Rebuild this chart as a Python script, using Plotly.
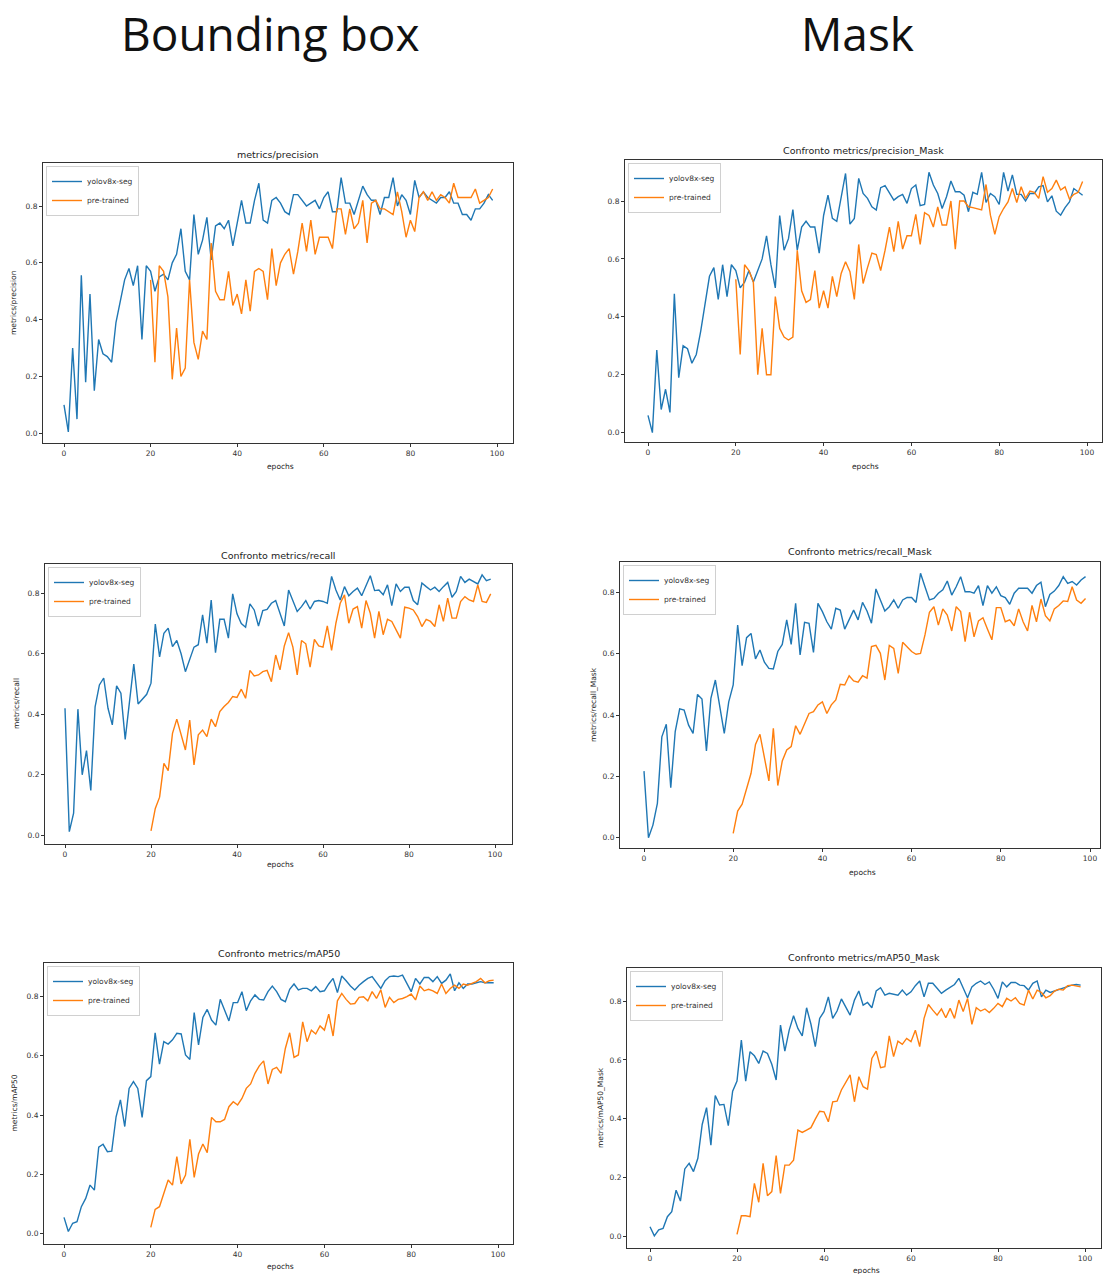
import plotly.graph_objects as go

W, H = 1105, 1274

# ---------------- data ----------------
epochs_yolo = list(range(0, 100))
epochs_pre = list(range(20, 100))

precision_yolo = [0.10, 0.005, 0.30, 0.05, 0.556, 0.18, 0.49, 0.15, 0.33, 0.28,
                  0.27, 0.25, 0.39, 0.47, 0.54, 0.58, 0.52, 0.59, 0.33, 0.59,
                  0.57, 0.50, 0.55, 0.56, 0.54, 0.60, 0.63, 0.72, 0.57, 0.54,
                  0.77, 0.63, 0.68, 0.76, 0.61, 0.73, 0.74, 0.72, 0.75, 0.66,
                  0.74, 0.82, 0.74, 0.74, 0.82, 0.88, 0.75, 0.74,
                  0.82, 0.83, 0.81, 0.78, 0.77, 0.84, 0.84, 0.82, 0.80, 0.81,
                  0.82, 0.79, 0.83, 0.85, 0.78, 0.78, 0.90, 0.81, 0.81, 0.77,
                  0.82, 0.87, 0.84, 0.82, 0.82, 0.77, 0.83, 0.83, 0.90, 0.80,
                  0.84, 0.82, 0.77, 0.89, 0.83, 0.85, 0.83, 0.82, 0.81, 0.83,
                  0.83, 0.85, 0.81, 0.81, 0.77, 0.77, 0.75, 0.79, 0.79, 0.81,
                  0.84, 0.82]
precision_pre = [0.54, 0.25, 0.59, 0.57, 0.48, 0.19, 0.37, 0.20, 0.23, 0.54,
                 0.32, 0.26, 0.36, 0.33, 0.67, 0.50, 0.47, 0.47, 0.57, 0.45,
                 0.49, 0.42, 0.54, 0.43, 0.57, 0.58, 0.57, 0.47, 0.65, 0.52,
                 0.60, 0.63, 0.65, 0.56, 0.64, 0.74, 0.64, 0.75, 0.63, 0.69,
                 0.69, 0.69, 0.65, 0.79, 0.79, 0.70, 0.79, 0.72, 0.74, 0.82,
                 0.67, 0.81, 0.82, 0.79, 0.79, 0.78, 0.77, 0.85, 0.78, 0.69,
                 0.75, 0.71, 0.83, 0.85, 0.82, 0.85, 0.82, 0.84, 0.83, 0.81,
                 0.88, 0.83, 0.83, 0.83, 0.83, 0.86, 0.81, 0.82, 0.83, 0.86]

precision_mask_yolo = [0.06, 0.00, 0.285, 0.08, 0.15, 0.07, 0.48, 0.19, 0.30, 0.29,
                       0.24, 0.27, 0.35, 0.45, 0.54, 0.57, 0.46, 0.58, 0.47, 0.58,
                       0.56, 0.50, 0.52, 0.56, 0.52, 0.56, 0.60, 0.68, 0.58, 0.50,
                       0.75, 0.63, 0.67, 0.77, 0.63, 0.71, 0.73, 0.71, 0.71, 0.62,
                       0.75, 0.82, 0.74, 0.73, 0.81, 0.895, 0.72, 0.74,
                       0.878, 0.826, 0.809, 0.78, 0.769, 0.846, 0.853, 0.826, 0.803, 0.815,
                       0.823, 0.792, 0.843, 0.855, 0.784, 0.788, 0.899, 0.855, 0.826, 0.774,
                       0.815, 0.869, 0.832, 0.832, 0.82, 0.763, 0.83, 0.823, 0.899, 0.795,
                       0.826, 0.815, 0.788, 0.899, 0.834, 0.89, 0.823, 0.823, 0.80, 0.826,
                       0.826, 0.849, 0.853, 0.797, 0.818, 0.765, 0.751, 0.777, 0.797, 0.843,
                       0.832, 0.82]
precision_mask_pre = [0.53, 0.27, 0.58, 0.56, 0.52, 0.20, 0.36, 0.20, 0.20, 0.47,
                      0.36, 0.33, 0.32, 0.33, 0.63, 0.49, 0.45, 0.46, 0.56, 0.43,
                      0.49, 0.43, 0.54, 0.47, 0.55, 0.59, 0.556, 0.46,
                      0.65, 0.515, 0.57, 0.62, 0.615, 0.56, 0.63, 0.71, 0.625, 0.73,
                      0.634, 0.68, 0.68, 0.754, 0.65, 0.76, 0.75, 0.71, 0.78, 0.717,
                      0.717, 0.80, 0.634, 0.80, 0.80, 0.78, 0.777, 0.774, 0.769, 0.857,
                      0.751, 0.685, 0.746, 0.774, 0.797, 0.843, 0.795, 0.849, 0.809, 0.834,
                      0.83, 0.809, 0.884, 0.83, 0.843, 0.872, 0.838, 0.849, 0.807, 0.823,
                      0.83, 0.867]

recall_yolo = [0.42, 0.012, 0.073, 0.417, 0.20, 0.28, 0.148, 0.425, 0.497, 0.52,
               0.42, 0.365, 0.494, 0.47, 0.317, 0.442, 0.566, 0.434, 0.45, 0.466,
               0.503, 0.698, 0.59, 0.668, 0.685, 0.624, 0.644, 0.60, 0.541, 0.585,
               0.622, 0.63, 0.729, 0.635, 0.778, 0.604, 0.714, 0.714, 0.652, 0.798,
               0.732, 0.70, 0.688, 0.765, 0.745, 0.692, 0.743, 0.747,
               0.767, 0.776, 0.736, 0.692, 0.811, 0.778, 0.74, 0.756, 0.776, 0.748,
               0.773, 0.776, 0.773, 0.767, 0.856, 0.811, 0.778, 0.822, 0.792, 0.806,
               0.817, 0.792, 0.828, 0.858, 0.809, 0.811, 0.795, 0.828, 0.759, 0.831,
               0.806, 0.82, 0.82, 0.776, 0.762, 0.834, 0.822, 0.811, 0.82, 0.806,
               0.822, 0.836, 0.787, 0.806, 0.856, 0.836, 0.847, 0.839, 0.831, 0.861,
               0.842, 0.847]
recall_pre = [0.015, 0.089, 0.126, 0.238, 0.214, 0.337, 0.384, 0.337, 0.282, 0.381,
              0.233, 0.332, 0.348, 0.326, 0.384, 0.359, 0.409, 0.426, 0.439, 0.459,
              0.456, 0.483, 0.453, 0.545, 0.527, 0.53, 0.541, 0.545,
              0.508, 0.596, 0.547, 0.626, 0.67, 0.622, 0.53, 0.644, 0.633, 0.556,
              0.648, 0.626, 0.622, 0.692, 0.611, 0.701, 0.767, 0.795, 0.701, 0.748,
              0.756, 0.685, 0.776, 0.734, 0.652, 0.74, 0.663, 0.714, 0.707, 0.679,
              0.652, 0.754, 0.751, 0.745, 0.723, 0.69, 0.714, 0.707, 0.69, 0.762,
              0.707, 0.784, 0.718, 0.718, 0.773, 0.789, 0.778, 0.773, 0.828, 0.773,
              0.77, 0.798]

recall_mask_yolo = [0.217, 0.0, 0.041, 0.112, 0.329, 0.37, 0.163, 0.346, 0.42, 0.416,
                    0.367, 0.34, 0.467, 0.452, 0.283, 0.454, 0.514, 0.427, 0.34, 0.443,
                    0.498, 0.693, 0.561, 0.652, 0.666, 0.583, 0.612, 0.572, 0.552, 0.55,
                    0.607, 0.63, 0.71, 0.63, 0.764, 0.596, 0.702, 0.699, 0.604, 0.764,
                    0.737, 0.704, 0.68, 0.748, 0.742, 0.68, 0.71, 0.742,
                    0.71, 0.767, 0.739, 0.699, 0.811, 0.775, 0.739, 0.753, 0.775, 0.748,
                    0.775, 0.783, 0.783, 0.767, 0.862, 0.818, 0.775, 0.78, 0.797, 0.808,
                    0.837, 0.791, 0.818, 0.851, 0.802, 0.802, 0.797, 0.822, 0.757, 0.822,
                    0.797, 0.818, 0.789, 0.783, 0.761, 0.797, 0.813, 0.813, 0.813, 0.797,
                    0.822, 0.833, 0.753, 0.793, 0.804, 0.822, 0.851, 0.829, 0.835, 0.824,
                    0.84, 0.851]
recall_mask_pre = [0.014, 0.087, 0.109, 0.161, 0.21, 0.304, 0.337, 0.261, 0.185, 0.357,
                   0.17, 0.25, 0.286, 0.297, 0.365, 0.337, 0.37, 0.405, 0.411, 0.433,
                   0.443, 0.405, 0.433, 0.449, 0.50, 0.498, 0.528, 0.511,
                   0.507, 0.528, 0.52, 0.623, 0.627, 0.601, 0.514, 0.627, 0.617, 0.536,
                   0.637, 0.623, 0.607, 0.598, 0.601, 0.661, 0.735, 0.753, 0.693, 0.746,
                   0.726, 0.674, 0.753, 0.737, 0.639, 0.735, 0.655, 0.707, 0.717, 0.68,
                   0.645, 0.75, 0.75, 0.704, 0.71, 0.691, 0.746, 0.704, 0.674, 0.757,
                   0.704, 0.778, 0.724, 0.707, 0.746, 0.757, 0.772, 0.77, 0.818, 0.775,
                   0.764, 0.78]

map50_yolo = [0.054, 0.006, 0.034, 0.039, 0.09, 0.118, 0.163, 0.146, 0.291, 0.301,
              0.276, 0.278, 0.394, 0.451, 0.361, 0.49, 0.513, 0.49, 0.392, 0.516,
              0.53, 0.678, 0.572, 0.648, 0.64, 0.654, 0.676, 0.674, 0.603, 0.588,
              0.746, 0.637, 0.73, 0.757, 0.721, 0.704, 0.791, 0.755, 0.718, 0.78,
              0.78, 0.817, 0.753, 0.786, 0.806, 0.791, 0.789, 0.817,
              0.836, 0.817, 0.791, 0.783, 0.825, 0.843, 0.823, 0.828, 0.828, 0.82,
              0.834, 0.817, 0.82, 0.843, 0.862, 0.814, 0.87, 0.854, 0.836, 0.823,
              0.839, 0.851, 0.862, 0.868, 0.847, 0.828, 0.854, 0.868, 0.87, 0.868,
              0.873, 0.847, 0.817, 0.862, 0.843, 0.865, 0.865, 0.851, 0.868, 0.845,
              0.856, 0.877, 0.82, 0.847, 0.828, 0.843, 0.843, 0.847, 0.851, 0.847,
              0.847, 0.847]
map50_pre = [0.02, 0.081, 0.09, 0.135, 0.18, 0.163, 0.259, 0.167, 0.197, 0.318,
             0.189, 0.268, 0.302, 0.273, 0.392, 0.377, 0.377, 0.385, 0.428, 0.445,
             0.434, 0.456, 0.49, 0.505, 0.541, 0.566, 0.583, 0.505,
             0.554, 0.561, 0.541, 0.625, 0.678, 0.595, 0.603, 0.715, 0.648, 0.687,
             0.674, 0.701, 0.687, 0.741, 0.667, 0.786, 0.811, 0.791, 0.775, 0.777,
             0.798, 0.80, 0.786, 0.817, 0.794, 0.823, 0.764, 0.798, 0.78, 0.791,
             0.794, 0.80, 0.809, 0.789, 0.836, 0.82, 0.825, 0.82, 0.811, 0.843,
             0.811, 0.828, 0.839, 0.828, 0.843, 0.839, 0.845, 0.851, 0.862, 0.847,
             0.854, 0.856]

map50_mask_yolo = [0.034, 0.003, 0.023, 0.028, 0.068, 0.085, 0.158, 0.121, 0.23, 0.249,
                   0.221, 0.266, 0.381, 0.438, 0.311, 0.479, 0.447, 0.449, 0.377, 0.494,
                   0.528, 0.667, 0.528, 0.628, 0.614, 0.588, 0.63, 0.622, 0.585, 0.532,
                   0.718, 0.63, 0.701, 0.75, 0.707, 0.682, 0.777, 0.721, 0.645, 0.741,
                   0.764, 0.814, 0.741, 0.766, 0.807, 0.781, 0.752, 0.803,
                   0.834, 0.786, 0.795, 0.777, 0.834, 0.845, 0.82, 0.826, 0.822, 0.82,
                   0.837, 0.82, 0.831, 0.852, 0.868, 0.814, 0.86, 0.86, 0.843, 0.826,
                   0.837, 0.848, 0.856, 0.877, 0.843, 0.811, 0.848, 0.86, 0.868, 0.856,
                   0.865, 0.84, 0.809, 0.865, 0.848, 0.863, 0.863, 0.854, 0.852, 0.837,
                   0.86, 0.868, 0.814, 0.837, 0.829, 0.834, 0.84, 0.843, 0.848, 0.854,
                   0.856, 0.854]
map50_mask_pre = [0.008, 0.071, 0.071, 0.068, 0.181, 0.117, 0.249, 0.139, 0.153, 0.275,
                  0.147, 0.243, 0.243, 0.26, 0.362, 0.354, 0.362, 0.37, 0.399, 0.426,
                  0.424, 0.39, 0.458, 0.46, 0.498, 0.524, 0.549, 0.458,
                  0.543, 0.509, 0.501, 0.605, 0.63, 0.574, 0.577, 0.682, 0.611, 0.664,
                  0.653, 0.673, 0.662, 0.701, 0.645, 0.741, 0.788, 0.769, 0.752, 0.773,
                  0.743, 0.775, 0.741, 0.803, 0.764, 0.809, 0.721, 0.777, 0.766, 0.773,
                  0.761, 0.775, 0.792, 0.781, 0.809, 0.80, 0.811, 0.792, 0.786, 0.837,
                  0.807, 0.837, 0.829, 0.811, 0.818, 0.834, 0.84, 0.837, 0.852, 0.854,
                  0.852, 0.848]

x_ticks = [0, 20, 40, 60, 80, 100]
y_ticks = [0.0, 0.2, 0.4, 0.6, 0.8]
series_names = ["yolov8x-seg", "pre-trained"]
column_titles = ["Bounding box", "Mask"]

# ---------------- layout of the six panels (pixel geometry) ----------------
panels = [
    dict(title="metrics/precision", ylabel="metrics/precision",
         yolo=precision_yolo, pre=precision_pre,
         px0=64, px100=497, py0=433.3, py8=206, left=43, right=513, top=163, bottom=443,
         title_y=155, xlab_y=466, ylab_x=14),
    dict(title="Confronto metrics/precision_Mask", ylabel="",
         yolo=precision_mask_yolo, pre=precision_mask_pre,
         px0=648, px100=1087, py0=432.7, py8=201, left=625, right=1102, top=160, bottom=442,
         title_y=150, xlab_y=466, ylab_x=600),
    dict(title="Confronto metrics/recall", ylabel="metrics/recall",
         yolo=recall_yolo, pre=recall_pre,
         px0=65, px100=495, py0=835.3, py8=593.3, left=45, right=512, top=564, bottom=844,
         title_y=555, xlab_y=865, ylab_x=16),
    dict(title="Confronto metrics/recall_Mask", ylabel="metrics/recall_Mask",
         yolo=recall_mask_yolo, pre=recall_mask_pre,
         px0=644, px100=1090, py0=837.7, py8=592.3, left=620, right=1100, top=562, bottom=848,
         title_y=551, xlab_y=872, ylab_x=593),
    dict(title="Confronto metrics/mAP50", ylabel="metrics/mAP50",
         yolo=map50_yolo, pre=map50_pre,
         px0=64, px100=498, py0=1233.3, py8=996.7, left=44, right=513, top=963, bottom=1244,
         title_y=953, xlab_y=1266, ylab_x=14),
    dict(title="Confronto metrics/mAP50_Mask", ylabel="metrics/mAP50_Mask",
         yolo=map50_mask_yolo, pre=map50_mask_pre,
         px0=650, px100=1085, py0=1236.7, py8=1001, left=627, right=1101, top=968, bottom=1248,
         title_y=957, xlab_y=1270, ylab_x=600),
]

BLUE = "#1f77b4"
ORANGE = "#ff7f0e"
FONT = "DejaVu Sans"

fig = go.Figure()
layout = dict(width=W, height=H, autosize=False,
              margin=dict(l=0, r=0, t=0, b=0, pad=0),
              paper_bgcolor="white", plot_bgcolor="white",
              font=dict(family=FONT, color="#222"))
annotations = []

for i, p in enumerate(panels, start=1):
    sx = (p["px100"] - p["px0"]) / 100.0
    ky = (p["py0"] - p["py8"]) / 0.8
    xr = [(p["left"] - p["px0"]) / sx, (p["right"] - p["px0"]) / sx]
    yr = [(p["py0"] - p["bottom"]) / ky, (p["py0"] - p["top"]) / ky]
    xdom = [p["left"] / W, p["right"] / W]
    ydom = [1 - p["bottom"] / H, 1 - p["top"] / H]
    xa = "x" if i == 1 else f"x{i}"
    ya = "y" if i == 1 else f"y{i}"
    lg = "legend" if i == 1 else f"legend{i}"

    fig.add_trace(go.Scatter(x=epochs_yolo, y=p["yolo"], mode="lines", name=series_names[0],
                             line=dict(color=BLUE, width=1.4), xaxis=xa, yaxis=ya, legend=lg))
    fig.add_trace(go.Scatter(x=epochs_pre, y=p["pre"], mode="lines", name=series_names[1],
                             line=dict(color=ORANGE, width=1.4), xaxis=xa, yaxis=ya, legend=lg))

    axis_common = dict(showline=True, linecolor="#333", linewidth=1, mirror=True,
                       showgrid=False, zeroline=False, ticks="outside", ticklen=3,
                       tickcolor="#333", tickfont=dict(size=7.5, family=FONT, color="#333"))
    layout["xaxis" if i == 1 else f"xaxis{i}"] = dict(
        domain=xdom, range=xr, anchor=ya, tickmode="array", tickvals=x_ticks,
        ticktext=[str(t) for t in x_ticks], **axis_common)
    layout["yaxis" if i == 1 else f"yaxis{i}"] = dict(
        domain=ydom, range=yr, anchor=xa, tickmode="array", tickvals=y_ticks,
        ticktext=[f"{t:.1f}" for t in y_ticks], **axis_common)

    layout[lg] = dict(x=(p["left"] + 3) / W, y=1 - (p["top"] + 3) / H,
                      xanchor="left", yanchor="top", bgcolor="white",
                      bordercolor="#d0d0d0", borderwidth=1,
                      font=dict(size=7.5, family=FONT, color="#333"),
                      tracegroupgap=0, itemwidth=30)

    cx = (p["left"] + p["right"]) / 2
    annotations.append(dict(text=p["title"], x=cx / W, y=1 - p["title_y"] / H,
                            xref="paper", yref="paper", showarrow=False,
                            xanchor="center", yanchor="middle",
                            font=dict(size=9.5, family=FONT, color="#222")))
    annotations.append(dict(text="epochs", x=(cx + 2) / W, y=1 - p["xlab_y"] / H,
                            xref="paper", yref="paper", showarrow=False,
                            xanchor="center", yanchor="middle",
                            font=dict(size=7.5, family=FONT, color="#222")))
    if p["ylabel"]:
        cy = (p["top"] + p["bottom"]) / 2
        annotations.append(dict(text=p["ylabel"], x=p["ylab_x"] / W, y=1 - cy / H,
                                xref="paper", yref="paper", showarrow=False, textangle=-90,
                                xanchor="center", yanchor="middle",
                                font=dict(size=7.5, family=FONT, color="#222")))

for label, cx in zip(column_titles, [270, 857]):
    annotations.append(dict(text=label, x=cx / W, y=1.0, xref="paper", yref="paper",
                            showarrow=False, xanchor="center", yanchor="top",
                            font=dict(size=46, family="Open Sans", color="#111")))

layout["annotations"] = annotations
layout["showlegend"] = True
fig.update_layout(**layout)
fig.write_html(
    "out.html",
    config={"displayModeBar": False},
    post_script="document.documentElement.style.margin='0';document.body.style.margin='0';"
                "document.body.style.padding='0';document.body.style.overflow='hidden';",
)
